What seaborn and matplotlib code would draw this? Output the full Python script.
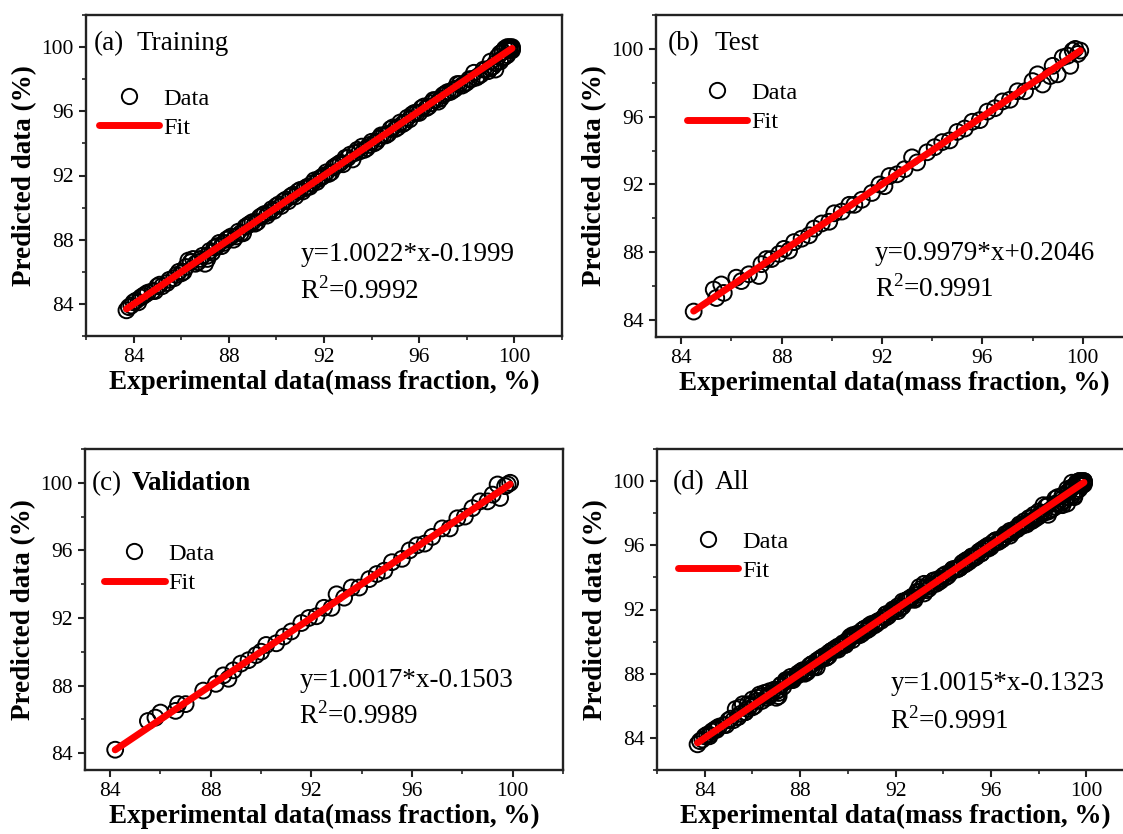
import numpy as np
import pandas as pd
import matplotlib
matplotlib.use("Agg")
import matplotlib.pyplot as plt
import seaborn as sns
from matplotlib.lines import Line2D
from matplotlib.ticker import MultipleLocator

# ---------------- data ----------------
train_exp = [83.7, 83.9, 84.1, 84.3, 84.5, 84.8, 85.0, 85.2, 85.5, 85.8, 86.0, 86.2, 86.3, 86.5,
             86.7, 86.9, 87.0, 87.1, 87.2, 87.4, 87.6, 87.8, 88.0, 88.2, 88.4, 88.6, 88.7, 88.9,
             89.1, 89.3, 89.5, 89.7, 89.9, 90.1, 90.3, 90.5, 90.7, 90.9, 91.1, 91.3, 91.5, 91.7,
             91.9, 92.1, 92.3, 92.5, 92.7, 92.9, 93.1, 93.3, 93.5, 93.7, 93.9, 94.1, 94.3, 94.5,
             94.7, 94.9, 95.1, 95.3, 95.5, 95.7, 95.9, 96.1, 96.3, 96.5, 96.7, 96.9, 97.1, 97.3,
             97.5, 97.7, 97.9, 98.1, 98.3, 98.5, 98.7, 98.9, 99.0, 99.1, 99.2, 99.3, 99.4, 99.5,
             99.6, 99.7, 99.8, 99.9, 99.9, 99.8,
             83.8, 84.0, 84.2, 84.4, 84.6, 84.9, 85.1, 85.4, 85.7, 85.9, 86.1, 86.4, 86.6, 86.8,
             87.1, 87.3, 87.5, 87.7, 87.9, 88.1, 88.3, 88.5, 88.8, 89.0, 89.2, 89.4, 89.6, 89.8,
             90.0, 90.2, 90.4, 90.6, 90.8, 91.0, 91.2, 91.4, 91.6, 91.8, 92.0, 92.2, 92.4, 92.6,
             92.8, 93.0, 93.2, 93.4, 93.6, 93.8, 94.0, 94.2, 94.4, 94.6, 94.8, 95.0, 95.2, 95.4,
             95.6, 95.8, 96.0, 96.2, 96.4, 96.6, 96.8, 97.0, 97.2, 97.4, 97.6, 97.8, 98.0, 98.2,
             98.4, 98.6, 98.8, 99.0, 99.2, 99.4, 99.5, 99.6, 99.7, 99.8, 99.9, 99.7, 99.5]
train_pred = [83.6, 83.9, 84.2, 84.4, 84.6, 84.8, 85.1, 85.1, 85.5, 85.8, 85.9, 86.3, 86.7, 86.8,
              86.6, 87.0, 86.5, 86.8, 87.3, 87.5, 87.8, 87.8, 88.1, 88.0, 88.5, 88.4, 88.8, 89.0,
              89.0, 89.4, 89.6, 89.7, 89.8, 90.2, 90.4, 90.4, 90.8, 91.0, 91.0, 91.3, 91.5, 91.6,
              91.9, 92.2, 92.2, 92.6, 92.8, 93.1, 93.3, 93.4, 93.5, 93.6, 93.9, 94.0, 94.3, 94.5,
              94.6, 95.0, 95.0, 95.2, 95.6, 95.8, 95.9, 96.2, 96.2, 96.5, 96.7, 96.8, 97.1, 97.2,
              97.4, 97.7, 97.7, 98.0, 98.4, 98.2, 98.6, 98.5, 99.1, 98.8, 98.6, 99.4, 99.6, 99.3,
              99.9, 99.5, 100.0, 99.9, 100.0, 99.8,
              83.8, 84.1, 84.1, 84.5, 84.7, 84.8, 85.2, 85.3, 85.6, 86.0, 86.0, 86.6, 86.5, 86.8,
              87.0, 87.2, 87.6, 87.6, 88.0, 88.2, 88.2, 88.4, 88.9, 89.1, 89.1, 89.5, 89.5, 89.9,
              90.1, 90.1, 90.5, 90.7, 90.7, 91.1, 91.2, 91.3, 91.7, 91.8, 92.0, 92.1, 92.5, 92.7,
              92.7, 93.1, 93.0, 93.6, 93.8, 93.7, 94.1, 94.1, 94.5, 94.5, 94.9, 94.9, 95.3, 95.3,
              95.5, 95.9, 95.9, 96.3, 96.3, 96.7, 96.6, 97.0, 97.2, 97.3, 97.7, 97.6, 97.8, 98.0,
              98.1, 98.3, 98.6, 98.7, 99.0, 99.1, 99.7, 99.4, 99.9, 99.9, 99.8, 100.0, 99.7]

test_exp = [84.5, 85.3, 85.4, 85.6, 85.7, 86.2, 86.4, 86.7, 87.1, 87.2, 87.4, 87.6, 87.9, 88.1,
            88.3, 88.5, 88.8, 89.1, 89.3, 89.6, 89.9, 90.1, 90.4, 90.7, 90.9, 91.2, 91.6, 91.9,
            92.1, 92.3, 92.6, 92.9, 93.2, 93.4, 93.8, 94.1, 94.4, 94.7, 95.0, 95.3, 95.6, 95.9,
            96.2, 96.5, 96.8, 97.1, 97.4, 97.7, 98.0, 98.2, 98.4, 98.7, 98.8, 99.0, 99.2, 99.4,
            99.5, 99.6, 99.7, 99.9, 99.8]
test_pred = [84.5, 85.8, 85.3, 86.1, 85.6, 86.5, 86.3, 86.7, 86.6, 87.3, 87.6, 87.6, 87.9, 88.2,
             88.1, 88.6, 88.8, 89.0, 89.4, 89.7, 89.8, 90.3, 90.4, 90.8, 90.8, 91.1, 91.5, 92.0,
             91.9, 92.5, 92.6, 92.9, 93.6, 93.3, 93.9, 94.2, 94.5, 94.6, 95.1, 95.3, 95.7, 95.8,
             96.3, 96.5, 96.9, 97.0, 97.5, 97.5, 98.1, 98.5, 97.9, 98.4, 99.0, 98.5, 99.5, 99.6,
             99.0, 99.9, 100.0, 99.9, 99.7]

val_exp = [84.2, 85.5, 85.8, 86.0, 86.6, 86.7, 87.0, 87.7, 88.2, 88.5, 88.7, 88.9, 89.2, 89.5,
           89.8, 90.0, 90.2, 90.6, 90.9, 91.2, 91.6, 91.9, 92.2, 92.5, 92.8, 93.0, 93.3, 93.6,
           93.9, 94.3, 94.6, 94.9, 95.2, 95.6, 95.9, 96.2, 96.5, 96.8, 97.2, 97.5, 97.8, 98.1,
           98.4, 98.7, 99.0, 99.2, 99.4, 99.5, 99.7, 99.9, 99.8]
val_pred = [84.2, 85.9, 86.1, 86.4, 86.5, 86.9, 86.9, 87.7, 88.1, 88.6, 88.4, 88.9, 89.3, 89.5,
            89.8, 90.0, 90.4, 90.5, 90.9, 91.2, 91.7, 92.0, 92.1, 92.6, 92.6, 93.4, 93.2, 93.8,
            93.8, 94.3, 94.6, 94.8, 95.3, 95.5, 96.0, 96.3, 96.4, 96.8, 97.3, 97.3, 97.9, 98.0,
            98.5, 98.9, 98.9, 99.3, 99.9, 99.1, 99.8, 100.0, 99.9]

panel_tags = ["(a)", "(b)", "(c)", "(d)"]
panel_names = ["Training", "Test", "Validation", "All"]
fit_slopes = [1.0022, 0.9979, 1.0017, 1.0015]
fit_intercepts = [-0.1999, 0.2046, -0.1503, -0.1323]
eq_labels = ["y=1.0022*x-0.1999", "y=0.9979*x+0.2046", "y=1.0017*x-0.1503", "y=1.0015*x-0.1323"]
r2_labels = ["0.9992", "0.9991", "0.9989", "0.9991"]
tick_values = [84, 88, 92, 96, 100]

all_exp = train_exp + test_exp + val_exp
all_pred = train_pred + test_pred + val_pred
datasets = [(train_exp, train_pred), (test_exp, test_pred), (val_exp, val_pred), (all_exp, all_pred)]

# ---------------- style ----------------
sns.set_theme(style="ticks")
plt.rcParams["font.family"] = ["Liberation Serif", "DejaVu Serif"]
plt.rcParams["mathtext.fontset"] = "custom"
plt.rcParams["mathtext.rm"] = "Liberation Serif"
plt.rcParams["axes.linewidth"] = 1.7
plt.rcParams["axes.edgecolor"] = "#222222"
plt.rcParams["text.color"] = "black"
plt.rcParams["axes.labelcolor"] = "black"
plt.rcParams["xtick.color"] = "#222222"
plt.rcParams["ytick.color"] = "#222222"

W, H = 1123, 834
fig = plt.figure(figsize=(W / 100, H / 100), dpi=100)

# pixel boxes: left, top, width, height
boxes = [(86, 15, 476, 321), (656, 15, 477, 322), (85, 449, 478, 321), (657, 449, 477, 321)]
limits = [(82, 102), (83, 102), (83, 102), (82, 102)]
name_bold = [False, False, True, False]
tag_pos = [(0.016, 0.891), (0.025, 0.891), (0.015, 0.872), (0.034, 0.875)]
name_x = [0.107, 0.122, 0.098, 0.122]
eq_pos = [(0.45, 0.233), (0.459, 0.239), (0.448, 0.259), (0.489, 0.249)]
r2_dy = [0.118, 0.115, 0.114, 0.119]
leg_anchor = [(0.006, 0.804), (0.044, 0.823), (0.019, 0.738), (0.023, 0.776)]

for i in range(4):
    l, t, w, h = boxes[i]
    ax = fig.add_axes([l / W, 1 - (t + h) / H, w / W, h / H])
    xs, ys = datasets[i]
    df = pd.DataFrame({"exp": xs, "pred": ys})
    sns.scatterplot(data=df, x="exp", y="pred", ax=ax, marker="o", s=130,
                    facecolors="none", edgecolor="black", linewidth=1.4, zorder=2)
    xl = np.array([min(xs), max(xs)])
    fit_df = pd.DataFrame({"x": xl, "y": fit_slopes[i] * xl + fit_intercepts[i]})
    sns.lineplot(data=fit_df, x="x", y="y", ax=ax, color="#ff0000", linewidth=5,
                 solid_capstyle="round", zorder=3)

    lo, hi = limits[i]
    ax.set_xlim(lo, hi)
    ax.set_ylim(lo, hi)
    ax.set_xticks(tick_values)
    ax.set_yticks(tick_values)
    ax.xaxis.set_minor_locator(MultipleLocator(2))
    ax.yaxis.set_minor_locator(MultipleLocator(2))
    ax.tick_params(which="major", direction="out", length=5, width=1.5, labelsize=15.5,
                   labelcolor="black", pad=4)
    ax.tick_params(which="minor", direction="out", length=3, width=1.2)
    for s in ax.spines.values():
        s.set_visible(True)

    ax.set_xlabel("Experimental data(mass fraction, %)", fontsize=19.5, fontweight="bold", labelpad=2)
    ax.set_ylabel("Predicted data (%)", fontsize=19.5, fontweight="bold", labelpad=3)

    tx, ty = tag_pos[i]
    ax.text(tx, ty, panel_tags[i], transform=ax.transAxes, fontsize=19.5, va="baseline", ha="left")
    ax.text(name_x[i], ty, panel_names[i], transform=ax.transAxes, fontsize=19.5, va="baseline",
            ha="left", fontweight="bold" if name_bold[i] else "normal")

    ex, ey = eq_pos[i]
    ax.text(ex, ey, eq_labels[i], transform=ax.transAxes, fontsize=19.5, va="baseline", ha="left")
    ax.text(ex, ey - r2_dy[i], r"R$^{\mathregular{2}}$=" + r2_labels[i], transform=ax.transAxes,
            fontsize=19.5, va="baseline", ha="left")

    handles = [Line2D([], [], marker="o", linestyle="none", markerfacecolor="none",
                      markeredgecolor="black", markersize=11, markeredgewidth=1.4),
               Line2D([], [], color="#ff0000", linewidth=5)]
    ax.legend(handles, ["Data", "Fit"], loc="upper left", bbox_to_anchor=leg_anchor[i],
              frameon=False, fontsize=17.5, handlelength=2.5, handletextpad=0.15,
              labelspacing=0.3, borderaxespad=0)

fig.savefig("out.png", dpi=100)
